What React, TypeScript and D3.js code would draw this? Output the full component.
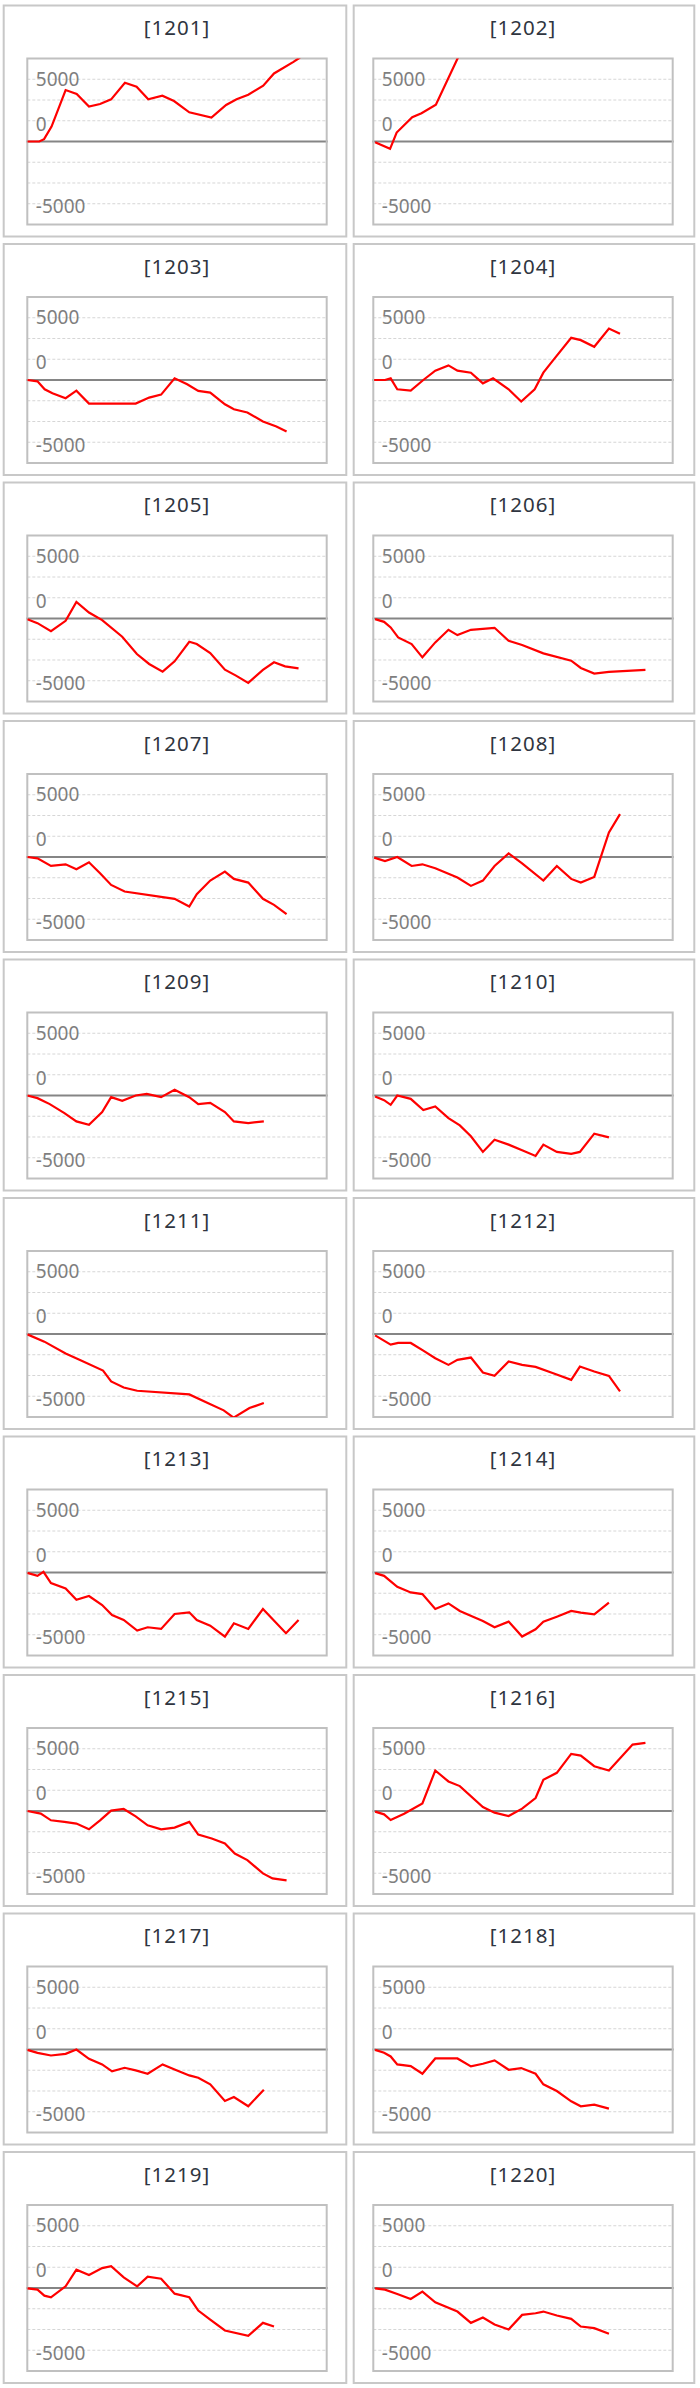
import React, { useRef, useEffect } from "react";
import * as d3 from "d3";

const width = 700;
const height = 2388;

const titles = [
  "[1201]", "[1202]", "[1203]", "[1204]", "[1205]", "[1206]", "[1207]",
  "[1208]", "[1209]", "[1210]", "[1211]", "[1212]", "[1213]", "[1214]",
  "[1215]", "[1216]", "[1217]", "[1218]", "[1219]", "[1220]",
];

// y tick labels and grid step
const labelTicks = [5000, 0, -5000];
const gridStep = 5000 / 3;
const yMax = 6667;

// x = position within the period (0-100), v = value
const x1201 = [0, 4.0, 5.6, 8.1, 12.8, 16.5, 20.6, 24.3, 28.0, 32.6, 36.5, 40.4, 45.1, 49.0, 54.1, 61.5, 66.4, 69.9, 73.8, 78.8, 82.4, 88.9, 91.1];
const v1201 = [0, 0, 187, 1200, 4133, 3813, 2800, 3013, 3387, 4720, 4400, 3387, 3680, 3253, 2347, 1920, 2933, 3387, 3760, 4480, 5467, 6400, 6747];
const x1202 = [0.6, 5.6, 7.8, 13.0, 16.1, 20.9, 28.3];
const v1202 = [-53, -587, 720, 1947, 2267, 2960, 6747];
const x1203 = [0, 3.4, 5.8, 8.4, 12.8, 16.4, 20.6, 26.5, 36.2, 40.7, 44.7, 49.2, 53.4, 57.1, 61.1, 66.0, 69.0, 73.5, 78.7, 83.2, 86.6];
const v1203 = [0, -107, -747, -1067, -1467, -853, -1893, -1893, -1893, -1413, -1173, 133, -347, -880, -1013, -1947, -2347, -2613, -3333, -3733, -4133];
const x1204 = [0.3, 3.9, 5.8, 8.0, 12.5, 16.7, 20.7, 25.1, 28.1, 32.6, 36.6, 40.0, 45.2, 49.4, 53.9, 56.8, 60.1, 66.1, 69.3, 73.8, 78.7, 82.4];
const v1204 = [0, 0, 133, -747, -853, 0, 747, 1173, 747, 587, -267, 133, -747, -1733, -747, 587, 1600, 3387, 3200, 2667, 4133, 3707];
const x1205 = [0, 3.4, 7.9, 12.8, 16.4, 20.6, 25.0, 31.7, 36.6, 40.7, 45.2, 49.2, 54.1, 56.6, 61.1, 66.0, 69.7, 73.8, 78.7, 82.4, 86.1, 90.6];
const v1205 = [-53, -373, -1013, -187, 1333, 480, -133, -1467, -2853, -3653, -4267, -3440, -1867, -2053, -2773, -4107, -4587, -5173, -4133, -3520, -3840, -4000];
const x1206 = [0.6, 3.6, 5.8, 8.3, 12.8, 16.4, 20.7, 25.1, 28.1, 32.6, 40.5, 45.2, 49.7, 56.8, 66.1, 69.3, 73.8, 78.7, 90.9];
const v1206 = [-53, -267, -720, -1520, -2053, -3120, -1920, -907, -1333, -907, -747, -1787, -2133, -2800, -3387, -3973, -4427, -4293, -4133];
const x1207 = [0, 3.4, 7.9, 12.8, 16.4, 20.6, 24.3, 28.0, 32.5, 49.2, 54.1, 56.6, 61.1, 66.0, 69.0, 73.8, 78.7, 82.4, 86.6];
const v1207 = [0, -107, -720, -587, -987, -427, -1307, -2240, -2773, -3360, -3973, -2987, -1893, -1173, -1760, -2053, -3360, -3840, -4587];
const x1208 = [0.3, 3.9, 8.0, 12.8, 16.4, 20.7, 28.1, 32.6, 36.6, 40.5, 45.2, 49.7, 56.8, 61.3, 66.1, 69.3, 73.8, 78.7, 82.4];
const v1208 = [-53, -320, 0, -720, -587, -907, -1653, -2320, -1893, -720, 293, -507, -1893, -720, -1760, -2053, -1600, 1973, 3440];
const x1209 = [0, 3.4, 7.5, 12.4, 16.4, 20.6, 25.0, 28.0, 31.7, 36.2, 39.9, 44.7, 49.2, 54.1, 57.1, 61.1, 66.0, 69.0, 73.8, 79.0];
const v1209 = [0, -213, -693, -1413, -2080, -2347, -1333, -133, -427, 0, 133, -133, 453, -133, -693, -587, -1333, -2080, -2213, -2080];
const x1210 = [0.6, 3.6, 5.8, 8.0, 12.5, 16.7, 20.7, 25.1, 28.9, 32.6, 36.6, 40.5, 45.2, 49.7, 54.2, 56.8, 61.3, 66.1, 69.0, 73.8, 78.7];
const v1210 = [-80, -373, -747, 0, -267, -1173, -880, -1813, -2400, -3280, -4533, -3547, -3947, -4400, -4853, -3947, -4533, -4693, -4533, -3067, -3360];
const x1211 = [0, 5.7, 12.8, 17.6, 25.3, 28.0, 32.2, 36.7, 54.1, 60.8, 65.6, 68.9, 74.2, 79.0];
const v1211 = [-27, -613, -1573, -2080, -2933, -3813, -4293, -4560, -4853, -5600, -6133, -6720, -5947, -5547];
const x1212 = [0.6, 5.8, 8.3, 12.5, 16.7, 20.7, 25.1, 28.1, 32.6, 36.6, 40.5, 45.2, 49.7, 54.2, 60.1, 66.1, 69.0, 73.8, 78.7, 82.4];
const v1212 = [-107, -853, -720, -720, -1333, -1947, -2480, -2080, -1893, -3093, -3360, -2213, -2480, -2640, -3147, -3680, -2613, -3013, -3360, -4613];
const x1213 = [0, 3.4, 5.4, 7.9, 12.8, 16.4, 20.6, 25.0, 28.3, 32.2, 36.7, 40.2, 44.7, 49.2, 54.1, 56.6, 61.1, 66.0, 69.0, 73.8, 78.7, 86.4, 90.6];
const v1213 = [-27, -267, 53, -853, -1280, -2187, -1893, -2613, -3413, -3813, -4667, -4400, -4533, -3333, -3200, -3813, -4267, -5147, -4080, -4533, -2933, -4880, -3813];
const x1214 = [0.6, 3.6, 8.0, 12.5, 16.4, 20.7, 25.1, 28.9, 33.3, 36.6, 40.5, 45.2, 49.7, 54.2, 56.8, 61.3, 66.1, 69.3, 73.8, 78.7];
const v1214 = [-53, -267, -1147, -1600, -1733, -2933, -2480, -3093, -3547, -3893, -4400, -3947, -5147, -4560, -3947, -3547, -3093, -3227, -3360, -2427];
const x1215 = [0, 4.5, 7.9, 12.4, 16.4, 20.6, 24.3, 28.0, 32.2, 36.2, 40.2, 44.7, 49.2, 54.1, 57.1, 61.6, 66.0, 69.3, 73.5, 78.7, 81.9, 86.6];
const v1215 = [0, -213, -747, -880, -1013, -1467, -747, 27, 160, -427, -1147, -1467, -1333, -880, -1893, -2213, -2613, -3413, -3947, -5013, -5413, -5573];
const x1216 = [0.6, 3.6, 5.8, 10.3, 16.4, 20.7, 25.1, 28.9, 36.6, 40.5, 45.2, 49.7, 54.2, 56.8, 61.3, 66.1, 69.3, 73.8, 78.7, 86.6, 90.9];
const v1216 = [-53, -267, -720, -213, 613, 3253, 2373, 2000, 320, -133, -400, 187, 1040, 2507, 3067, 4587, 4453, 3600, 3253, 5333, 5467];
const x1217 = [0, 3.4, 7.9, 12.8, 16.4, 20.6, 25.0, 28.3, 32.5, 36.2, 40.2, 45.2, 49.2, 54.1, 57.1, 61.1, 66.0, 69.0, 73.8, 79.0];
const v1217 = [-27, -267, -480, -347, 0, -747, -1200, -1760, -1467, -1680, -1947, -1200, -1600, -2080, -2267, -2800, -4133, -3813, -4560, -3227];
const x1218 = [0.6, 3.6, 5.8, 8.0, 12.5, 16.4, 20.7, 28.1, 32.6, 36.6, 40.5, 45.2, 49.4, 54.2, 56.8, 61.3, 66.1, 69.3, 73.8, 78.7];
const v1218 = [-27, -267, -560, -1200, -1333, -1947, -720, -720, -1360, -1147, -880, -1627, -1493, -1947, -2800, -3333, -4160, -4560, -4427, -4747];
const x1219 = [0, 3.4, 5.7, 7.9, 12.8, 16.4, 20.6, 25.0, 28.0, 32.2, 36.7, 40.2, 44.7, 49.2, 54.1, 57.1, 61.1, 66.0, 73.8, 78.7, 82.4];
const v1219 = [-27, -133, -613, -747, 133, 1467, 1040, 1600, 1760, 853, 133, 907, 747, -453, -747, -1813, -2533, -3413, -3840, -2800, -3093];
const x1220 = [0.6, 3.9, 8.0, 12.5, 16.4, 20.7, 28.1, 32.6, 36.6, 40.5, 45.2, 49.7, 54.2, 56.8, 61.3, 66.1, 69.3, 73.8, 78.7];
const v1220 = [-27, -133, -480, -880, -293, -1147, -1893, -2800, -2373, -2933, -3333, -2160, -2027, -1893, -2213, -2480, -3093, -3227, -3680];

const xs = [x1201, x1202, x1203, x1204, x1205, x1206, x1207, x1208, x1209, x1210, x1211, x1212, x1213, x1214, x1215, x1216, x1217, x1218, x1219, x1220];
const vs = [v1201, v1202, v1203, v1204, v1205, v1206, v1207, v1208, v1209, v1210, v1211, v1212, v1213, v1214, v1215, v1216, v1217, v1218, v1219, v1220];

const font = "'Noto Sans', 'DejaVu Sans', sans-serif";

export default function App() {
  const ref = useRef<SVGSVGElement | null>(null);

  useEffect(() => {
    const svg = d3.select(ref.current);
    svg.selectAll("*").remove();

    const rowPitch = 238.5;
    const panelX = [[3.7, 346.3], [353.7, 694.3]];
    const plotX = [27.3, 373.3];
    const plotW = 299.4;
    const half = 83;

    titles.forEach((title, i) => {
      const col = i % 2;
      const row = Math.floor(i / 2);
      const z = 141.5 + rowPitch * row;

      const g = svg.append("g");

      // panel frame
      g.append("rect")
        .attr("x", panelX[col][0])
        .attr("y", z - 136)
        .attr("width", panelX[col][1] - panelX[col][0])
        .attr("height", 231)
        .attr("fill", "#fff")
        .attr("stroke", "#c8c8c8")
        .attr("stroke-width", 2);

      const x = d3.scaleLinear().domain([0, 100]).range([plotX[col], plotX[col] + plotW]);
      const y = d3.scaleLinear().domain([-yMax, yMax]).range([z + half, z - half]);

      // title
      g.append("text")
        .attr("x", plotX[col] + plotW / 2)
        .attr("y", z - 106.5)
        .attr("text-anchor", "middle")
        .attr("font-family", font)
        .attr("font-size", 20.5)
        .attr("letter-spacing", 1)
        .attr("fill", "#2f3540")
        .text(title);

      // grid
      const grid = d3.range(-3, 4).filter((k) => k !== 0).map((k) => k * gridStep);
      g.selectAll("line.grid")
        .data(grid)
        .enter()
        .append("line")
        .attr("class", "grid")
        .attr("x1", plotX[col])
        .attr("x2", plotX[col] + plotW)
        .attr("y1", (d) => y(d))
        .attr("y2", (d) => y(d))
        .attr("stroke", "#d6d6d6")
        .attr("stroke-width", 1)
        .attr("stroke-dasharray", "3,2");

      // y labels
      g.selectAll("text.ylab")
        .data(labelTicks)
        .enter()
        .append("text")
        .attr("class", "ylab")
        .attr("x", plotX[col] + 8.5)
        .attr("y", (d) => (d === 0 ? y(0) - 11 : y(d) + (d > 0 ? 6.5 : 9.5)))
        .attr("font-family", font)
        .attr("font-size", 19)
        .attr("fill", "#7f7f7f")
        .text((d) => String(d));

      // zero line
      g.append("line")
        .attr("x1", plotX[col] - 1)
        .attr("x2", plotX[col] + plotW + 1)
        .attr("y1", y(0))
        .attr("y2", y(0))
        .attr("stroke", "#858585")
        .attr("stroke-width", 2);

      // plot frame
      g.append("rect")
        .attr("x", plotX[col])
        .attr("y", z - half)
        .attr("width", plotW)
        .attr("height", half * 2)
        .attr("fill", "none")
        .attr("stroke", "#c0c0c0")
        .attr("stroke-width", 2);

      const clipId = `clip-${i}`;
      svg.append("clipPath")
        .attr("id", clipId)
        .append("rect")
        .attr("x", plotX[col])
        .attr("y", z - half)
        .attr("width", plotW)
        .attr("height", half * 2);

      const pts = xs[i].map((xv, j) => [xv, vs[i][j]] as [number, number]);
      const line = d3.line<[number, number]>()
        .x((d) => x(d[0]))
        .y((d) => y(d[1]));

      g.append("path")
        .datum(pts)
        .attr("clip-path", `url(#${clipId})`)
        .attr("d", line)
        .attr("fill", "none")
        .attr("stroke", "#ff0000")
        .attr("stroke-width", 2.2);
    });
  }, []);

  return (
    <div style={{ position: "absolute", left: 0, top: 0 }}>
      <svg ref={ref} width={width} height={height} style={{ display: "block" }} />
    </div>
  );
}
